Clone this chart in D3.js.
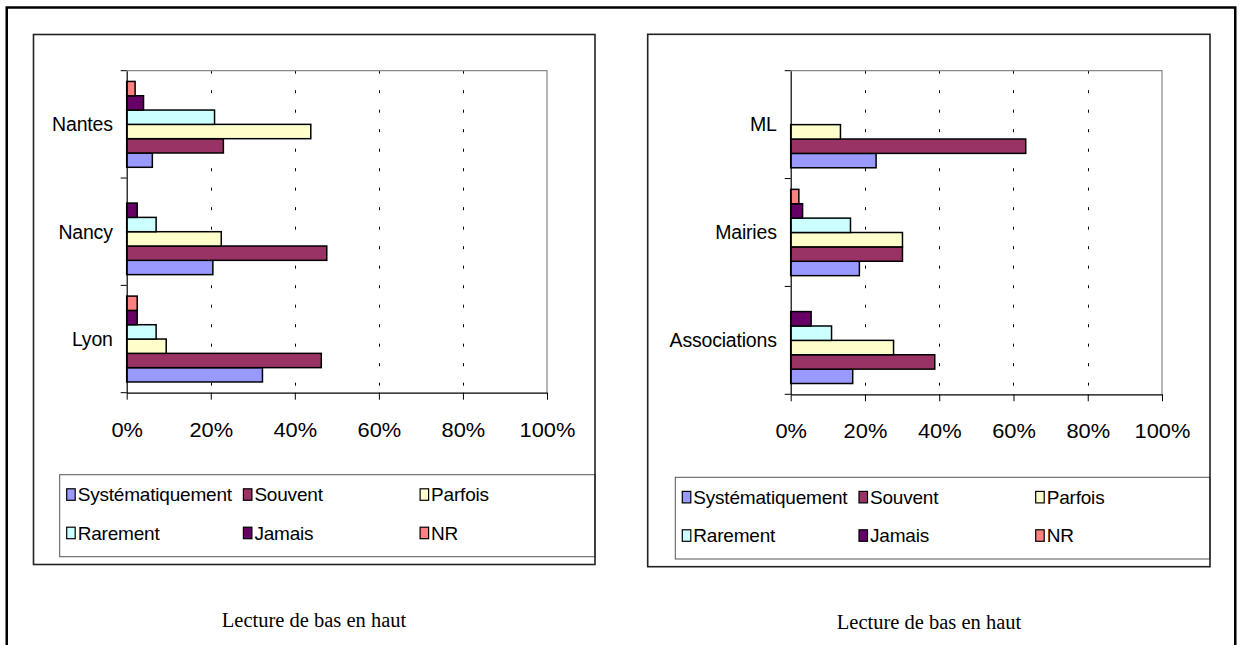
<!DOCTYPE html>
<html>
<head>
<meta charset="utf-8">
<script src="https://cdn.jsdelivr.net/npm/d3@7"></script>
<style>
    html, body { margin: 0; padding: 0; background: #fff; }
    svg { display: block; }
    .sans { font-family: "Liberation Sans", Arial, sans-serif; fill: #000; }
    .serif { font-family: "Liberation Serif", "Times New Roman", serif; fill: #000; }
</style>
</head>
<body>
<svg id="page" width="1239" height="645"></svg>
<script>
// series, listed from the bottom bar of a group to the top bar
const seriesNames = ["Systématiquement", "Souvent", "Parfois", "Rarement", "Jamais", "NR"];
const seriesColors = ["#9999ff", "#993366", "#ffffcc", "#ccffff", "#660066", "#ff8080"];
const tickValues = [0, 20, 40, 60, 80, 100];
const captionText = "Lecture de bas en haut";

// left chart, categories from bottom to top (values in %)
const cityCategories = ["Lyon", "Nancy", "Nantes"];
const lyonValues = [32.3, 46.3, 9.4, 7.0, 2.5, 2.5];
const nancyValues = [20.5, 47.6, 22.5, 7.0, 2.5, 0];
const nantesValues = [6.1, 23.0, 43.8, 20.9, 4.0, 2.0];

// right chart
const structureCategories = ["Associations", "Mairies", "ML"];
const associationsValues = [16.7, 38.8, 27.7, 11.0, 5.5, 0];
const mairiesValues = [18.5, 30.1, 30.1, 16.1, 3.2, 2.2];
const mlValues = [23.0, 63.3, 13.4, 0, 0, 0];

const svg = d3.select("#page");

// outer frame, its bottom edge runs past the page
svg.append("rect")
    .attr("x", 6.75).attr("y", 7.5)
    .attr("width", 1228.5).attr("height", 700)
    .attr("fill", "none").attr("stroke", "#000").attr("stroke-width", 2.5);

function drawChart(o)
{
    const g = svg.append("g");
    const p = o.plot;

    const x = d3.scaleLinear().domain([0, 100]).range([p.left, p.right]);
    const y = d3.scaleBand()
        .domain(o.categories.slice().reverse())
        .range([p.top, p.bottom]);
    const inner = d3.scaleBand()
        .domain(seriesNames.slice().reverse())
        .range([0, y.bandwidth()])
        .paddingInner(0)
        .paddingOuter(0.75);

    // legend goes first so the chart box border covers its right side
    const lg = o.legend;
    g.append("rect")
        .attr("x", lg.left).attr("y", lg.top)
        .attr("width", o.box.right - lg.left).attr("height", lg.bottom - lg.top)
        .attr("fill", "#fff").attr("stroke", "#555").attr("stroke-width", 1);

    const items = g.append("g").selectAll("g")
        .data(seriesNames.map((name, i) => ({ name, color: seriesColors[i], i })))
        .join("g")
        .attr("transform", d => `translate(${lg.left + 7 + (d.i % 3) * 176.7}, ${lg.top + 19.6 + Math.floor(d.i / 3) * 38.4})`);
    items.append("rect")
        .attr("x", 0).attr("y", -5.5)
        .attr("width", 8.5).attr("height", 11.5)
        .attr("fill", d => d.color).attr("stroke", "#000").attr("stroke-width", 1.2);
    items.append("text")
        .attr("class", "sans")
        .attr("x", 11).attr("dy", "0.36em")
        .style("font-size", "19px")
        .style("letter-spacing", "-0.2px")
        .text(d => d.name);

    // chart box
    g.append("rect")
        .attr("x", o.box.left).attr("y", o.box.top)
        .attr("width", o.box.right - o.box.left).attr("height", o.box.bottom - o.box.top)
        .attr("fill", "none").attr("stroke", "#222").attr("stroke-width", 1.6);

    // dashed gridlines
    g.append("g").selectAll("line")
        .data(tickValues.filter(v => v > 0 && v < 100))
        .join("line")
        .attr("x1", d => Math.round(x(d)) + 0.5).attr("x2", d => Math.round(x(d)) + 0.5)
        .attr("y1", p.top).attr("y2", p.bottom)
        .attr("stroke", "#000").attr("stroke-width", 1)
        .attr("stroke-dasharray", "3,16.5");

    // plot area border (top and right)
    g.append("path")
        .attr("d", `M${p.left},${p.top}H${p.right}V${p.bottom}`)
        .attr("fill", "none").attr("stroke", "#888").attr("stroke-width", 1.2);

    // bars
    o.categories.forEach((cat, ci) => {
        const vals = o.values[ci];
        g.append("g").selectAll("rect")
            .data(seriesNames.map((name, i) => ({ name, v: vals[i], color: seriesColors[i] })).filter(d => d.v > 0))
            .join("rect")
            .attr("x", x(0))
            .attr("y", d => y(cat) + inner(d.name))
            .attr("width", d => x(d.v) - x(0))
            .attr("height", inner.bandwidth())
            .attr("fill", d => d.color)
            .attr("stroke", "#000").attr("stroke-width", 1.5);
    });

    // value axis
    const xAxis = g.append("g")
        .attr("transform", `translate(0, ${p.bottom})`)
        .call(d3.axisBottom(x).tickValues(tickValues).tickSize(7).tickSizeOuter(0).tickFormat(d => d + "%"));
    xAxis.select(".domain").attr("stroke", "#000").attr("stroke-width", 1.2);
    xAxis.selectAll(".tick line").attr("stroke", "#000");
    xAxis.selectAll("text")
        .attr("class", "sans")
        .attr("y", 44).attr("dy", null)
        .attr("transform", "scale(1.12,1)")
        .style("font-size", "19.5px");

    // category axis
    const yAxis = g.append("g")
        .attr("transform", `translate(${p.left}, 0)`)
        .call(d3.axisLeft(y).tickSize(0).tickSizeOuter(0).tickPadding(14));
    yAxis.select(".domain").attr("stroke", "#000").attr("stroke-width", 1.2);
    yAxis.selectAll("text")
        .attr("class", "sans")
        .attr("dy", "0.35em")
        .style("font-size", "19.5px")
        .style("letter-spacing", "-0.2px");
    yAxis.append("g").selectAll("line")
        .data([p.top].concat(y.domain().map(c => y(c) + y.bandwidth())))
        .join("line")
        .attr("x1", -6).attr("x2", 0)
        .attr("y1", d => d).attr("y2", d => d)
        .attr("stroke", "#000").attr("stroke-width", 1);

    g.append("text")
        .attr("class", "serif")
        .attr("x", o.caption.x).attr("y", o.caption.y)
        .attr("text-anchor", "middle")
        .style("font-size", "20.5px")
        .text(captionText);
}

drawChart({
    categories: cityCategories,
    values: [lyonValues, nancyValues, nantesValues],
    box: { left: 33.5, top: 34.5, right: 595, bottom: 564.5 },
    plot: { left: 126.7, right: 547, top: 70.7, bottom: 392.7 },
    legend: { left: 59.7, top: 474.7, bottom: 556.7 },
    caption: { x: 314, y: 626.5 }
});

drawChart({
    categories: structureCategories,
    values: [associationsValues, mairiesValues, mlValues],
    box: { left: 647.7, top: 34.3, right: 1210, bottom: 566.7 },
    plot: { left: 790.7, right: 1162, top: 70.7, bottom: 394.3 },
    legend: { left: 675.3, top: 477.3, bottom: 559 },
    caption: { x: 929, y: 629 }
});
</script>
</body>
</html>
